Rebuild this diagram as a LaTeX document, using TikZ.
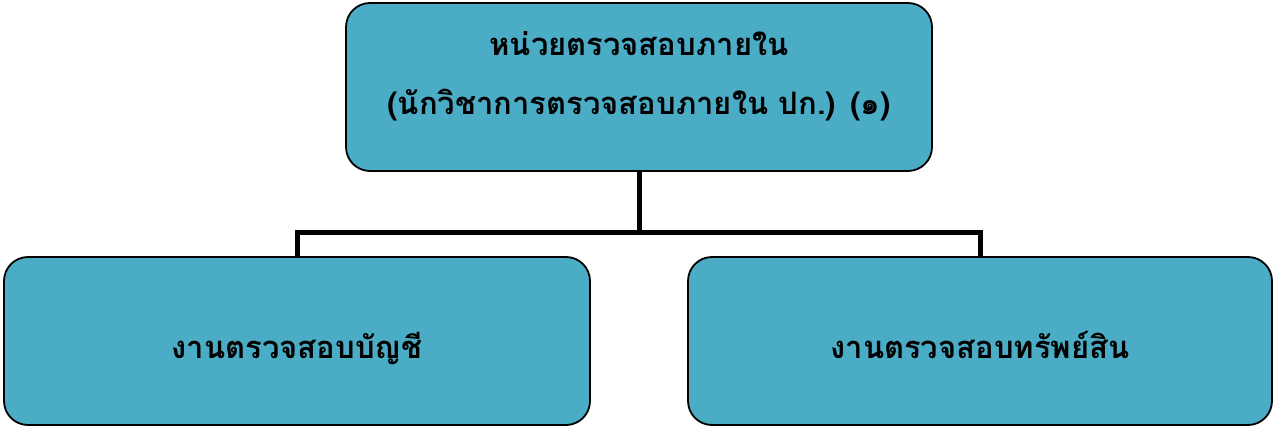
\documentclass[tikz,border=0pt]{standalone}
\usepackage{fontspec}
\newfontfamily\thaifont[Script=Thai]{Loma}
\definecolor{boxfill}{HTML}{4BACC6}
\begin{document}
\begin{tikzpicture}[x=1pt,y=-1pt,
  orgbox/.style={draw=black,line width=1.8pt,fill=boxfill,rounded corners=24pt,inner sep=0pt},
  conn/.style={draw=black,line width=5pt,line join=miter},
  lbl/.style={font=\thaifont\bfseries\fontsize{31}{58}\selectfont,align=center,anchor=base,inner sep=0pt}]
\useasboundingbox (0,0) rectangle (1274,427);
\path[orgbox] (346,3) rectangle (932,171);
\node[minimum width=586pt,minimum height=168pt] (top) at (639,87) {};
\path[orgbox] (4,257) rectangle (590,425);
\node[minimum width=586pt,minimum height=168pt] (left) at (297,341) {};
\path[orgbox] (688,257) rectangle (1272,425);
\node[minimum width=584pt,minimum height=168pt] (right) at (980,341) {};
\node[lbl] (t1) at (639,56) {หน่วยตรวจสอบภายใน};
\node[lbl] (t2) at (639,115) {(นักวิชาการตรวจสอบภายใน ปก.) (๑)};
\node[lbl] (l1) at (297,359) {งานตรวจสอบบัญชี};
\node[lbl] (r1) at (980,359) {งานตรวจสอบทรัพย์สิน};
\coordinate (mid) at (639,233);
\draw[conn] (top.south) -- (mid);
\draw[conn] (left.north) |- (right.north |- mid) -- (right.north);
\end{tikzpicture}
\end{document}
